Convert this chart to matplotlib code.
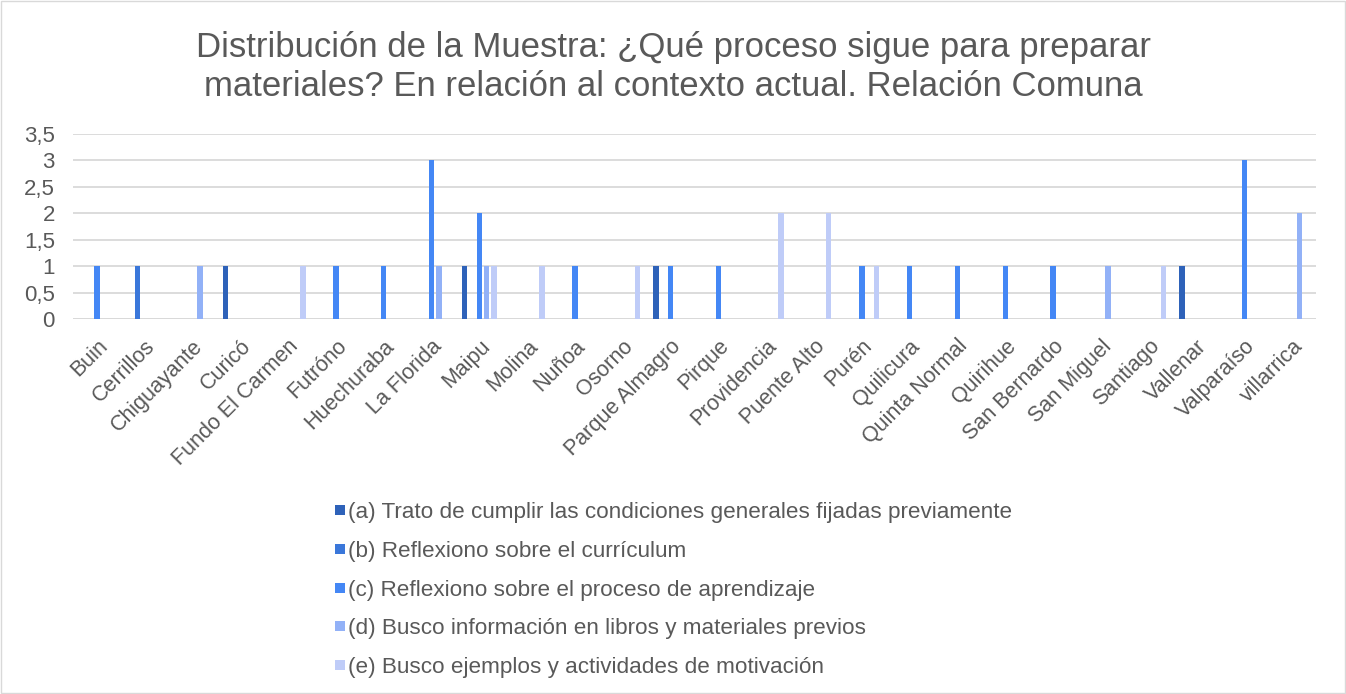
import matplotlib
matplotlib.use("Agg")
import matplotlib.pyplot as plt
import matplotlib.transforms as mtransforms
import numpy as np
from matplotlib.lines import Line2D
from matplotlib.patches import Rectangle

plt.rcParams['font.family'] = ['Liberation Sans', 'DejaVu Sans']

comunas = ["Buin", "Cerrillos", "Chiguayante", "Curicó", "Fundo El Carmen", "Futróno",
           "Huechuraba", "La Florida", "Maipu", "Molina", "Nuñoa", "Osorno",
           "Parque Almagro", "Pirque", "Providencia", "Puente Alto", "Purén", "Quilicura",
           "Quinta Normal", "Quirihue", "San Bernardo", "San Miguel", "Santiago",
           "Vallenar", "Valparaíso", "villarrica"]

series_labels = [
    "(a) Trato de cumplir las condiciones generales fijadas previamente",
    "(b) Reflexiono sobre el currículum",
    "(c) Reflexiono sobre el proceso de aprendizaje",
    "(d) Busco información en libros y materiales previos",
    "(e) Busco ejemplos y actividades de motivación",
]

#            Bu Ce Ch Cu FE Fu Hu LF Ma Mo Ñu Os PA Pi Pr PA Pu Qc QN Qh SB SM Sa Va Vp vi
serie_a = [0, 0, 0, 1, 0, 0, 0, 0, 1, 0, 0, 0, 1, 0, 0, 0, 0, 0, 0, 0, 0, 0, 0, 1, 0, 0]
serie_b = [0, 1, 0, 0, 0, 0, 0, 0, 0, 0, 0, 0, 0, 0, 0, 0, 0, 0, 0, 0, 0, 0, 0, 0, 0, 0]
serie_c = [1, 0, 0, 0, 0, 1, 1, 3, 2, 0, 1, 0, 1, 1, 0, 0, 1, 1, 1, 1, 1, 0, 0, 0, 3, 0]
serie_d = [0, 0, 1, 0, 0, 0, 0, 1, 1, 0, 0, 0, 0, 0, 0, 0, 0, 0, 0, 0, 0, 1, 0, 0, 0, 2]
serie_e = [0, 0, 0, 0, 1, 0, 0, 0, 1, 1, 0, 1, 0, 0, 2, 2, 1, 0, 0, 0, 0, 0, 1, 0, 0, 0]

yticks = [0, 0.5, 1, 1.5, 2, 2.5, 3, 3.5]
ytick_labels = ["0", "0,5", "1", "1,5", "2", "2,5", "3", "3,5"]

title = ("Distribución de la Muestra: ¿Qué proceso sigue para preparar\n"
         "materiales? En relación al contexto actual. Relación Comuna")

colors = ["#2E62B9", "#3A77DA", "#4487F5", "#92B1F7", "#BFCCF8"]
text_color = "#595959"

fig = plt.figure(figsize=(13.46, 6.94), dpi=100)
ax = fig.add_axes([73/1346, 1 - 319/694, (1316-73)/1346, (319-134)/694])

x = np.arange(len(comunas))
all_series = [serie_a, serie_b, serie_c, serie_d, serie_e]
offsets = [-0.306, -0.153, 0.0, 0.153, 0.306]
width = 0.115
for vals, off, col in zip(all_series, offsets, colors):
    ax.bar(x + off, vals, width=width, color=col, zorder=3)

ax.set_xlim(-0.5, len(comunas) - 0.5)
ax.set_ylim(0, 3.5)
ax.set_yticks(yticks)
ax.set_yticklabels(ytick_labels, fontsize=16, color=text_color)
ax.set_xticks(x)
ax.set_xticklabels(comunas, rotation=45, ha='right', rotation_mode='anchor',
                   fontsize=15.5, color=text_color)
shift = mtransforms.ScaledTranslation(-4/100, -2/100, fig.dpi_scale_trans)
for lab in ax.get_xticklabels():
    lab.set_transform(lab.get_transform() + shift)
ax.tick_params(axis='both', length=0)
ax.tick_params(axis='y', pad=13)
ax.tick_params(axis='x', pad=12)
ax.grid(axis='y', color='#D9D9D9', linewidth=1.3, zorder=0)
for s in ax.spines.values():
    s.set_visible(False)
ax.axhline(0, color='#D9D9D9', linewidth=1.3, zorder=2)

fig.text(0.5, 1 - 67/694, title, ha='center', va='center', fontsize=25,
         color=text_color, linespacing=1.25)

handles = [Line2D([], [], marker='s', linestyle='none', markersize=7,
                  markerfacecolor=c, markeredgewidth=0) for c in colors]
fig.legend(handles, series_labels, loc='upper left',
           bbox_to_anchor=(325/1346, 1 - 493/694), frameon=False, ncol=1,
           fontsize=16.2, labelcolor=text_color, handlelength=0.5,
           handletextpad=0.1, labelspacing=0.79, borderaxespad=0)

fig.add_artist(Rectangle((0.001, 0.001), 0.998, 0.998, transform=fig.transFigure,
                         fill=False, edgecolor='#D9D9D9', linewidth=1))

fig.savefig("out.png", dpi=100, facecolor='white')
